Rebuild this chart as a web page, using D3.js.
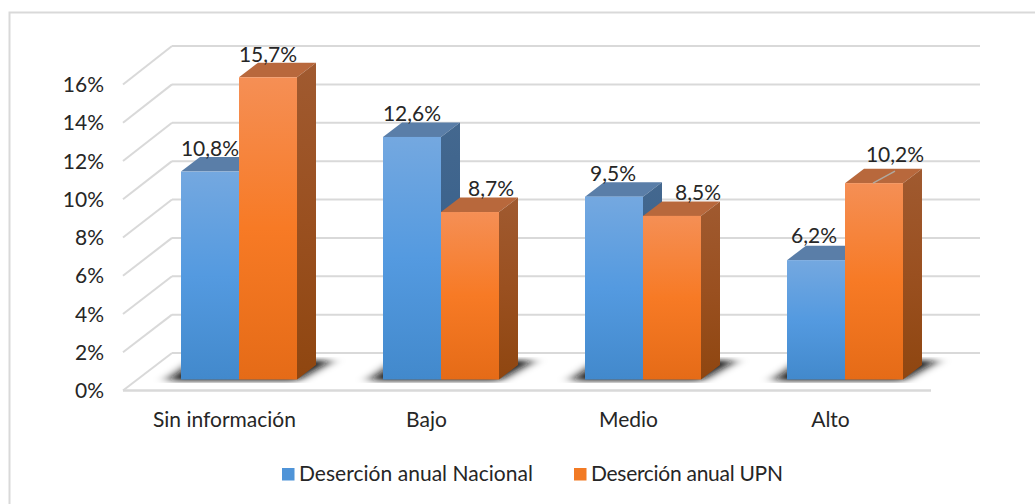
<!DOCTYPE html>
<html><head><meta charset="utf-8">
<script src="https://cdn.jsdelivr.net/npm/d3@7/dist/d3.min.js"></script>
<style>html,body{margin:0;background:#fff}svg{display:block}text{font-family:Lato,"Open Sans",sans-serif;fill:#262626}</style>
</head><body><div id="c"></div>
<script>
const categories = ["Sin información","Bajo","Medio","Alto"];
const nacional = [10.8,12.6,9.5,6.2];
const upn = [15.7,8.7,8.5,10.2];
const seriesNames = ["Deserción anual Nacional","Deserción anual UPN"];
const yTicks = [0,2,4,6,8,10,12,14,16];
const W=1035,H=504, depthX=19, depthY=14.5, barW=58, fs=21;
const svg=d3.select("#c").append("svg").attr("width",W).attr("height",H);
const fmt=v=>v.toFixed(1).replace(".",",")+"%";
const defs=svg.append("defs");
function grad(id,stops){const g=defs.append("linearGradient").attr("id",id).attr("x1",0).attr("y1",0).attr("x2",0).attr("y2",1);
 stops.forEach(([o,c])=>g.append("stop").attr("offset",o).attr("stop-color",c));}
grad("gB",[[0,"#74a8e0"],[.5,"#549ae0"],[1,"#4289cc"]]);
grad("gO",[[0,"#f58f55"],[.5,"#f77a25"],[1,"#e56b17"]]);
grad("sB",[[0,"#44688f"],[1,"#2e5a88"]]);
grad("sO",[[0,"#a05a30"],[.5,"#9a5020"],[1,"#8f4610"]]);
defs.append("filter").attr("id","blur").attr("x","-30%").attr("y","-60%").attr("width","160%").attr("height","220%")
 .append("feGaussianBlur").attr("stdDeviation","7 2.5");
defs.append("clipPath").attr("id","floorClip").append("rect").attr("x",0).attr("y",357).attr("width",W).attr("height",26);

// frame: open on the right and bottom
svg.append("path").attr("d",`M9.5,${H}V12.5H${W}`).attr("fill","none").attr("stroke","#d9d9d9").attr("stroke-width",2);

const yFront=d3.scaleLinear().domain([0,16]).range([390.5,84.5]);
const yBack=d3.scaleLinear().domain([0,16]).range([353,46]);
const xFloor=d3.scalePoint().domain(categories).range([181,787]);
const yBar=d3.scaleLinear().domain([0,16]).range([379.5,71.5]);
const grid=svg.append("g").attr("stroke","#d9d9d9").attr("stroke-width",2).attr("fill","none");
yTicks.forEach(t=>{
  grid.append("line").attr("x1",172).attr("x2",980).attr("y1",yBack(t)).attr("y2",yBack(t));
  grid.append("line").attr("x1",123).attr("y1",yFront(t)).attr("x2",172).attr("y2",yBack(t));
});
grid.append("line").attr("x1",123).attr("x2",931).attr("y1",yFront(0)).attr("y2",yFront(0)).attr("stroke-width",2.5);

svg.append("g").selectAll("text").data(yTicks).join("text")
 .attr("x",104).attr("y",d=>yFront(d)).attr("dy","0.36em").attr("text-anchor","end").attr("font-size",fs).text(d=>d+"%");

// shadows
svg.append("g").attr("clip-path","url(#floorClip)").selectAll("path").data(categories).join("path")
 .attr("d",d=>{const x=xFloor(d),b=yBar(0);return `M${x-14},${b+1}L${x+2*barW},${b+1}L${x+2*barW+depthX+16},${b-19}L${x+14},${b-19}Z`;})
 .attr("fill","#111").attr("filter","url(#blur)");

function bar(g,x,v,front,side,top){
 const y=yBar(v),b=yBar(0);
 g.append("path").attr("d",`M${x},${y}l${depthX},${-depthY}h${barW}l${-depthX},${depthY}Z`).attr("fill",top);
 g.append("path").attr("d",`M${x+barW},${y}l${depthX},${-depthY}V${b-depthY}L${x+barW},${b}Z`).attr("fill",side);
 g.append("rect").attr("x",x).attr("y",y).attr("width",barW).attr("height",b-y).attr("fill",front);
}
const marks=svg.append("g");
categories.forEach((c,i)=>{
  const g=marks.append("g"), x=xFloor(c);
  bar(g,x,nacional[i],"url(#gB)","url(#sB)","#5a7ea8");
  bar(g,x+barW,upn[i],"url(#gO)","url(#sO)","#b8683c");
});
// leader line on Alto UPN
const altoX=xFloor("Alto")+barW;
svg.append("line").attr("x1",altoX+28).attr("y1",yBar(10.2)).attr("x2",altoX+50).attr("y2",yBar(10.2)-12)
 .attr("stroke","#b0a9a0").attr("stroke-width",1.5);

// labels, nudged the way the original's were
const nudgeN=[[0,-16],[0,-16],[-1,-16],[-2,-17]];
const nudgeU=[[0,-15],[21,-16],[26,-16],[21,-21]];
const labels=svg.append("g").attr("font-size",fs).attr("text-anchor","middle");
categories.forEach((c,i)=>{
  labels.append("text").attr("x",xFloor(c)+29+nudgeN[i][0]).attr("y",yBar(nacional[i])+nudgeN[i][1]).text(fmt(nacional[i]));
  labels.append("text").attr("x",xFloor(c)+barW+29+nudgeU[i][0]).attr("y",yBar(upn[i])+nudgeU[i][1]).text(fmt(upn[i]));
});
// category labels
svg.append("g").selectAll("text").data(categories).join("text")
 .attr("x",d=>xFloor(d)+43.5).attr("y",427).attr("text-anchor","middle").attr("font-size",fs).text(d=>d);
// legend
const lg=svg.append("g");
[[282,"#4f94d8",seriesNames[0],299,234],[574,"#f27a24",seriesNames[1],591,192]].forEach(([x,c,t,tx,len])=>{
  lg.append("rect").attr("x",x).attr("y",468).attr("width",12.5).attr("height",12.5).attr("fill",c);
  lg.append("text").attr("x",tx).attr("y",481).attr("font-size",fs).attr("textLength",len).text(t);
});
</script></body></html>
